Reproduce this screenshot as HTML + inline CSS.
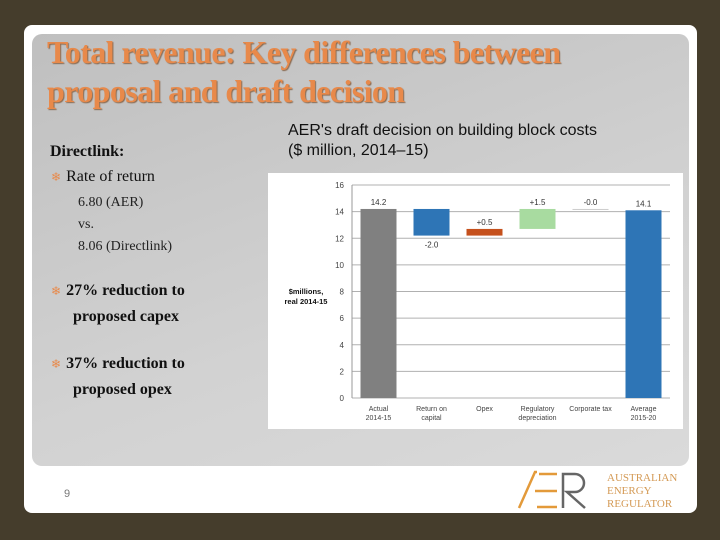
<!DOCTYPE html>
<html><head><meta charset="utf-8"><style>
body{margin:0;width:720px;height:540px;background:#453d2c;position:relative;overflow:hidden;font-family:"Liberation Serif",serif}
#card{position:absolute;left:24px;top:25px;width:673px;height:488px;background:#fff;border-radius:8px}
#panel{position:absolute;left:32px;top:34px;width:657px;height:432px;border-radius:10px;background:linear-gradient(160deg,#bfbfbf,#d2d2d2 60%,#dadada)}
#title{position:absolute;left:47px;top:33px;font-size:32px;font-weight:bold;color:#e8894a;line-height:39px;letter-spacing:-0.6px;text-shadow:1px 1px 1px #8a6a50}
.t{position:absolute;color:#111}
#ctitle{position:absolute;left:288px;top:121px;font-family:"Liberation Sans",sans-serif;font-size:16px;line-height:20px;color:#111}
.bul{color:#e8894a;font-size:12px;margin-right:5px;font-weight:normal}
</style></head><body>
<div id="card"></div>
<div id="panel"></div>
<div id="title">Total revenue: Key differences between<br>proposal and draft decision</div>
<div class="t" style="left:50px;top:143px;font-size:16px;font-weight:bold">Directlink:</div>
<div class="t" style="left:51px;top:168px;font-size:16px"><span class="bul">&#10052;</span>Rate of return</div>
<div class="t" style="left:78px;top:192px;font-size:14px;line-height:22px;color:#222">6.80 (AER)<br>vs.<br>8.06 (Directlink)</div>
<div class="t" style="left:51px;top:278px;font-size:16px;line-height:25px;font-weight:bold"><span class="bul">&#10052;</span>27% reduction to<br><span style="margin-left:22px">proposed capex</span></div>
<div class="t" style="left:51px;top:351px;font-size:16px;line-height:25px;font-weight:bold"><span class="bul">&#10052;</span>37% reduction to<br><span style="margin-left:22px">proposed opex</span></div>
<div id="ctitle">AER's draft decision on building block costs<br>($ million, 2014–15)</div>
<div class="t" style="left:64px;top:488px;font-size:11px;color:#777;font-family:'Liberation Sans',sans-serif">9</div>
<svg style="position:absolute;left:515px;top:468px" width="170" height="44">
<polyline points="4,40 20,4 22,4" fill="none" stroke="#e39a3a" stroke-width="2.5"/>
<line x1="20" y1="23" x2="42" y2="23" stroke="#e39a3a" stroke-width="2.5"/>
<line x1="22" y1="39" x2="42" y2="39" stroke="#e39a3a" stroke-width="2.5"/>
<line x1="24" y1="6" x2="42" y2="6" stroke="#e39a3a" stroke-width="2.5"/>
<path d="M48,40 V6 H60 A9,9 0 0 1 60,24 H52 L70,40" fill="none" stroke="#666" stroke-width="2.5"/>
<text x="92" y="13" font-family="Liberation Serif" font-size="11" fill="#d49a55">AUSTRALIAN</text>
<text x="92" y="26" font-family="Liberation Serif" font-size="11" fill="#d49a55">ENERGY</text>
<text x="92" y="39" font-family="Liberation Serif" font-size="11" fill="#d49a55">REGULATOR</text>
</svg>
<svg id="chart" style="position:absolute;left:268px;top:173px" width="415" height="256"></svg>
<script>
const categories=["Actual\n2014-15","Return on\ncapital","Opex","Regulatory\ndepreciation","Corporate tax","Average\n2015-20"];
const values=[14.2,-2.0,0.5,1.5,0.0,14.1];
const labels=["14.2","-2.0","+0.5","+1.5","-0.0","14.1"];
const colors=["#808080","#2e75b6","#c5501c","#a8dba0","#cccccc","#2e75b6"];
const ticks=[0,2,4,6,8,10,12,14,16];
const svg=document.getElementById('chart');
const NS='http://www.w3.org/2000/svg';
const x0=84,x1=402,yTop=12,yBot=225,ymax=16;
const y=v=>yBot-(v/ymax)*(yBot-yTop);
const bw=(x1-x0)/categories.length;
const cx=i=>x0+bw*(i+0.5);
function mk(t,a){const e=document.createElementNS(NS,t);for(const k in a)e.setAttribute(k,a[k]);svg.appendChild(e);return e;}
const bg=mk('rect',{x:0,y:0,width:415,height:256,fill:'#fff'});


ticks.forEach(t=>{
 const g=mk('line',{x1:x0,x2:x1,y1:y(t),y2:y(t),stroke:'#b0b0b0','stroke-width':1});
 
 
 const tx=mk('text',{x:x0-8,y:y(t)+3,'text-anchor':'end','font-size':8,'font-family':'Liberation Sans',fill:'#444'});
 tx.textContent=t;
 
 
});
const ax=mk('line',{x1:x0,x2:x0,y1:yTop,y2:yBot,stroke:'#999'});


const yt=mk('text',{x:38,y:121,'text-anchor':'middle','font-size':7.5,'font-weight':'bold','font-family':'Liberation Sans',fill:'#111'});
yt.innerHTML='<tspan x="38">$millions,</tspan><tspan x="38" dy="10">real 2014-15</tspan>';


let run=0;
values.forEach((v,i)=>{
 let lo,hi;
 if(i===0||i===values.length-1){lo=0;hi=v;run=v;}
 else{const nr=run+v;lo=Math.min(run,nr);hi=Math.max(run,nr);run=nr;}
 const h=Math.max(y(lo)-y(hi),v===0?1:0);
 const r=mk('rect',{x:cx(i)-18,y:y(hi),width:36,height:h,fill:colors[i]});
 
 
 const below=v<0&&i>0&&i<values.length-1;
 const lb=mk('text',{x:cx(i),y:below?y(lo)+12:y(hi)-4,'text-anchor':'middle','font-size':8,'font-family':'Liberation Sans',fill:'#333'});
 lb.textContent=labels[i];
 
 
 const cl=mk('text',{x:cx(i),y:yBot+13,'text-anchor':'middle','font-size':7,'font-family':'Liberation Sans',fill:'#444'});
 categories[i].split('\n').forEach((s,k)=>{const ts=document.createElementNS(NS,'tspan');ts.setAttribute('x',cx(i));ts.setAttribute('dy',k?9:0);ts.textContent=s;cl.appendChild(ts);});
 
 
});
</script>
</body></html>
